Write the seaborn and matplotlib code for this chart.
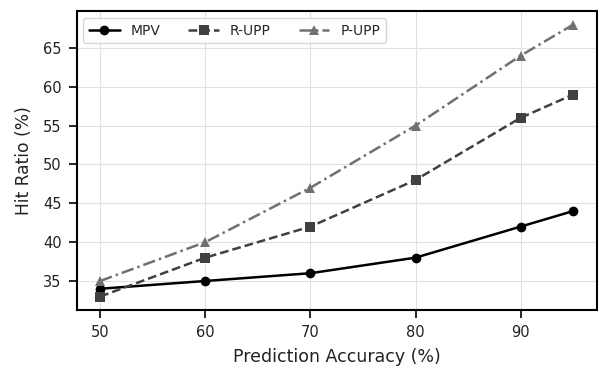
import matplotlib
matplotlib.use("Agg")
import matplotlib.pyplot as plt
import seaborn as sns
import pandas as pd

accuracy = [50, 60, 70, 80, 90, 95]
mpv = [34, 35, 36, 38, 42, 44]
r_upp = [33, 38, 42, 48, 56, 59]
p_upp = [35, 40, 47, 55, 64, 68]
series_names = ["MPV", "R-UPP", "P-UPP"]

df = pd.DataFrame({
    "Prediction Accuracy (%)": accuracy * 3,
    "Hit Ratio (%)": mpv + r_upp + p_upp,
    "Method": [n for n in series_names for _ in accuracy],
})

sns.set_theme(style="whitegrid")
plt.rcParams["font.family"] = ["DejaVu Sans"]

fig = plt.figure(figsize=(5.98, 3.67), dpi=100)
ax = fig.add_axes([0.128, 0.155, 0.870, 0.815])

palette = {"MPV": "#000000", "R-UPP": "#404040", "P-UPP": "#707070"}
markers = {"MPV": "o", "R-UPP": "s", "P-UPP": "^"}
dashes = {"MPV": "", "R-UPP": (3.5, 1.6), "P-UPP": (5, 1.6, 1, 1.6)}

sns.lineplot(data=df, x="Prediction Accuracy (%)", y="Hit Ratio (%)", hue="Method",
             style="Method", palette=palette, markers=markers, dashes=dashes,
             linewidth=1.8, markersize=7, markeredgewidth=0, ax=ax)

ax.set_xticks([50, 60, 70, 80, 90])
ax.set_yticks([35, 40, 45, 50, 55, 60, 65])
ax.tick_params(axis="both", labelsize=10.5, length=5.8, width=1.2, color="black",
               pad=5, bottom=True, left=True, labelcolor="#222222")
ax.set_xlabel("Prediction Accuracy (%)", fontsize=12.5, color="#222222", labelpad=6)
ax.set_ylabel("Hit Ratio (%)", fontsize=12.3, color="#222222", labelpad=7)
ax.grid(True, color="#e0e0e0", linewidth=0.8)
for s in ax.spines.values():
    s.set_visible(True)
    s.set_color("black")
    s.set_linewidth(1.5)

leg = ax.legend(loc="upper left", ncol=3, fontsize=10, frameon=True,
                handlelength=2.2, columnspacing=2.0)
leg.get_frame().set_edgecolor("#cccccc")
leg.set_title(None)

fig.savefig("out.png", dpi=100)
